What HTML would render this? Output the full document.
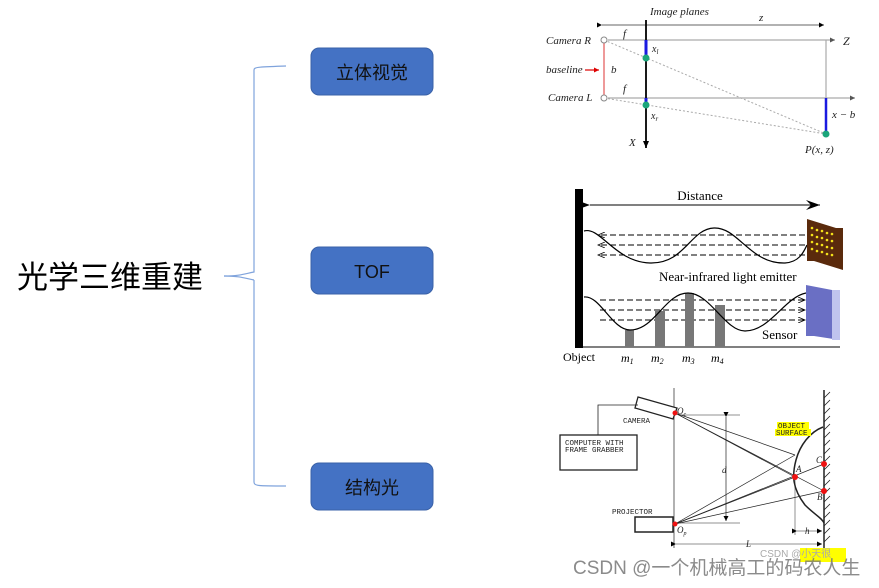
<!DOCTYPE html>
<html><head><meta charset="utf-8"><style>
html,body{margin:0;padding:0;background:#fff;}
svg{display:block;}
.ser{font-family:"Liberation Serif",serif;}
.mono{font-family:"Liberation Mono",monospace;}
</style></head><body>
<svg width="879" height="588" viewBox="0 0 879 588" xmlns="http://www.w3.org/2000/svg">
<defs>
<marker id="ah" markerWidth="8" markerHeight="8" refX="7" refY="4" orient="auto" markerUnits="userSpaceOnUse"><path d="M0,1 L7,4 L0,7 Z" fill="#000"/></marker>
<marker id="ahs" markerWidth="6" markerHeight="6" refX="5" refY="3" orient="auto" markerUnits="userSpaceOnUse"><path d="M0,0.5 L5,3 L0,5.5 Z" fill="#000"/></marker>
<marker id="ahg" markerWidth="6" markerHeight="6" refX="5" refY="3" orient="auto" markerUnits="userSpaceOnUse"><path d="M0,0.5 L5,3 L0,5.5 Z" fill="#555"/></marker>
<marker id="ahr" markerWidth="6" markerHeight="6" refX="5" refY="3" orient="auto" markerUnits="userSpaceOnUse"><path d="M0,0.5 L5,3 L0,5.5 Z" fill="#d00"/></marker>
<marker id="ahb" markerWidth="16" markerHeight="10" refX="14" refY="5" orient="auto" markerUnits="userSpaceOnUse"><path d="M0,0 L14,5 L0,10 L5,5 Z" fill="#000"/></marker>
<marker id="ao" markerWidth="8" markerHeight="6" refX="7" refY="3" orient="auto" markerUnits="userSpaceOnUse"><path d="M0,0 L7,3 L0,6" fill="none" stroke="#000" stroke-width="0.8"/></marker>
</defs>

<!-- Left mindmap -->
<text x="17" y="288" font-family="'Liberation Sans','Noto Sans CJK SC',sans-serif" font-size="31" fill="#000">光学三维重建</text>
<path d="M224,276 C240,276 244,274 254,272 L254,70 C254,67 258,67 286,66 M254,280 L254,482 C254,486 258,486 286,486" fill="none" stroke="#7fa3dc" stroke-width="1.2"/>
<path d="M224,276 C240,276 244,278 254,280" fill="none" stroke="#7fa3dc" stroke-width="1.2"/>
<g font-family="'Liberation Sans','Noto Sans CJK SC',sans-serif" font-size="18" fill="#111" text-anchor="middle">
<rect x="311" y="48" width="122" height="47" rx="8" fill="#4472c4" stroke="#3a62a8"/>
<text x="372" y="79">立体视觉</text>
<rect x="311" y="247" width="122" height="47" rx="8" fill="#4472c4" stroke="#3a62a8"/>
<text x="372" y="278">TOF</text>
<rect x="311" y="463" width="122" height="47" rx="8" fill="#4472c4" stroke="#3a62a8"/>
<text x="372" y="494">结构光</text>
</g>

<!-- Stereo -->
<g class="ser" font-style="italic" font-size="11" fill="#222">
<text x="650" y="15">Image planes</text>
<text x="759" y="21">z</text>
<line x1="602" y1="25" x2="824" y2="25" stroke="#333" stroke-width="0.7" marker-end="url(#ahs)" marker-start="url(#ahs)"/>
<line x1="608" y1="40" x2="835" y2="40" stroke="#aaa" stroke-width="1.2" marker-end="url(#ahg)"/>
<line x1="608" y1="98" x2="855" y2="98" stroke="#aaa" stroke-width="1.2" marker-end="url(#ahg)"/>
<line x1="826" y1="40" x2="826" y2="134" stroke="#aaa" stroke-width="1.2"/>
<line x1="604" y1="40" x2="826" y2="134" stroke="#aaa" stroke-width="1" stroke-dasharray="2,2"/>
<line x1="604" y1="98" x2="826" y2="134" stroke="#aaa" stroke-width="1" stroke-dasharray="2,2"/>
<line x1="646" y1="20" x2="646" y2="148" stroke="#000" stroke-width="1.8" marker-end="url(#ah)"/>
<line x1="646" y1="40" x2="646" y2="58" stroke="#1a1ae0" stroke-width="3"/>
<line x1="646" y1="98" x2="646" y2="104" stroke="#1a1ae0" stroke-width="3"/>
<line x1="826" y1="98" x2="826" y2="134" stroke="#1a1ae0" stroke-width="2.5"/>
<circle cx="646" cy="58" r="3.5" fill="#1aa57a"/>
<circle cx="646" cy="105" r="3.5" fill="#1aa57a"/>
<circle cx="826" cy="134" r="3.5" fill="#1aa57a"/>
<line x1="604" y1="40" x2="604" y2="98" stroke="#d33" stroke-width="1"/>
<circle cx="604" cy="40" r="3" fill="#fff" stroke="#888"/>
<circle cx="604" cy="98" r="3" fill="#fff" stroke="#888"/>
<line x1="585" y1="70" x2="599" y2="70" stroke="#d00" stroke-width="1.2" marker-end="url(#ahr)"/>
<text x="546" y="44">Camera R</text>
<text x="548" y="101">Camera L</text>
<text x="546" y="73">baseline</text>
<text x="611" y="73">b</text>
<text x="623" y="37">f</text>
<text x="623" y="92">f</text>
<text x="843" y="45" font-size="12">Z</text>
<text x="652" y="52" font-size="10">x<tspan font-size="7" dy="2">l</tspan></text>
<text x="651" y="119" font-size="10">x<tspan font-size="7" dy="2">r</tspan></text>
<text x="629" y="146">X</text>
<text x="832" y="118">x − b</text>
<text x="805" y="153">P(x, z)</text>
</g>

<!-- TOF -->
<g>
<rect x="575" y="189" width="8" height="159" fill="#000"/>
<line x1="575" y1="347" x2="840" y2="347" stroke="#000" stroke-width="1"/>
<line x1="590" y1="205" x2="820" y2="205" stroke="#000" stroke-width="1" marker-end="url(#ahb)" marker-start="url(#ahb)"/>
<text class="ser" x="700" y="200" text-anchor="middle" font-size="13">Distance</text>
<path d="M584,231 C600,226 615,262 650,263 C685,264 690,229 714,228 C738,227 750,264 785,263 C800,262 804,251 807,245" fill="none" stroke="#000" stroke-width="1.2"/>
<g stroke="#000" stroke-width="1" stroke-dasharray="6,3">
<line x1="805" y1="235" x2="598" y2="235" marker-end="url(#ao)"/>
<line x1="805" y1="245" x2="598" y2="245" marker-end="url(#ao)"/>
<line x1="805" y1="255" x2="598" y2="255" marker-end="url(#ao)"/>
<line x1="600" y1="300" x2="805" y2="300" marker-end="url(#ao)"/>
<line x1="600" y1="310" x2="805" y2="310" marker-end="url(#ao)"/>
<line x1="600" y1="320" x2="805" y2="320" marker-end="url(#ao)"/>
</g>
<polygon points="807,219 836,228 843,228 843,270 814,261 807,261" fill="#5a2a0c"/>
<g fill="#f4e21a">
<circle cx="812" cy="228" r="1.3"/><circle cx="817" cy="230" r="1.3"/><circle cx="822" cy="231" r="1.3"/><circle cx="827" cy="233" r="1.3"/><circle cx="832" cy="234" r="1.3"/>
<circle cx="812" cy="235" r="1.3"/><circle cx="817" cy="237" r="1.3"/><circle cx="822" cy="238" r="1.3"/><circle cx="827" cy="240" r="1.3"/><circle cx="832" cy="241" r="1.3"/>
<circle cx="812" cy="242" r="1.3"/><circle cx="817" cy="244" r="1.3"/><circle cx="822" cy="245" r="1.3"/><circle cx="827" cy="247" r="1.3"/><circle cx="832" cy="248" r="1.3"/>
<circle cx="812" cy="249" r="1.3"/><circle cx="817" cy="251" r="1.3"/><circle cx="822" cy="252" r="1.3"/><circle cx="827" cy="254" r="1.3"/><circle cx="832" cy="255" r="1.3"/>
</g>
<text class="ser" x="659" y="281" font-size="13">Near-infrared light emitter</text>
<rect x="625" y="330" width="9" height="17" fill="#777"/>
<rect x="655" y="311" width="10" height="36" fill="#777"/>
<rect x="685" y="293" width="9" height="54" fill="#777"/>
<rect x="715" y="305" width="10" height="42" fill="#777"/>
<path d="M584,297 C600,295 612,330 630,330 C655,330 665,293 688,293 C710,293 725,331 745,331 C770,331 785,297 806,293" fill="none" stroke="#000" stroke-width="1.2"/>
<polygon points="806,285 832,290 840,290 840,340 814,336 806,336" fill="#6a6fc4"/>
<rect x="832" y="290" width="8" height="50" fill="#c0c4ee"/>
<text class="ser" x="762" y="339" font-size="13">Sensor</text>
<g class="ser" font-size="12">
<text x="563" y="361">Object</text>
<text x="621" y="362" font-style="italic">m<tspan font-size="8" dy="2">1</tspan></text>
<text x="651" y="362" font-style="italic">m<tspan font-size="8" dy="2">2</tspan></text>
<text x="682" y="362" font-style="italic">m<tspan font-size="8" dy="2">3</tspan></text>
<text x="711" y="362" font-style="italic">m<tspan font-size="8" dy="2">4</tspan></text>
</g>
</g>

<!-- Structured light -->
<g stroke="#222" fill="none">
<line x1="674" y1="388" x2="674" y2="548" stroke-width="0.7"/>
<line x1="824" y1="390" x2="824" y2="550" stroke-width="1.5"/>
<path d="M824,398 l6,-6 M824,406 l6,-6 M824,414 l6,-6 M824,422 l6,-6 M824,430 l6,-6 M824,438 l6,-6 M824,446 l6,-6 M824,454 l6,-6 M824,462 l6,-6 M824,470 l6,-6 M824,478 l6,-6 M824,486 l6,-6 M824,494 l6,-6 M824,502 l6,-6 M824,510 l6,-6 M824,518 l6,-6 M824,526 l6,-6 M824,534 l6,-6 M824,542 l6,-6" stroke-width="0.8"/>
<polygon points="638,397 677,408 673,419 635,408" stroke-width="1.3" fill="#fff"/>
<polyline points="638,405 598,405 598,435" stroke-width="0.8"/>
<rect x="560" y="435" width="77" height="35" stroke-width="1.3" fill="#fff"/>
<rect x="635" y="517" width="38" height="15" stroke-width="1.5" fill="#fff"/>
<line x1="680" y1="415" x2="740" y2="415" stroke-width="0.6"/>
<line x1="680" y1="523" x2="740" y2="523" stroke-width="0.6"/>
<line x1="726" y1="417" x2="726" y2="521" stroke-width="0.7" marker-end="url(#ahs)" marker-start="url(#ahs)"/>
<line x1="795" y1="478" x2="795" y2="535" stroke-width="0.5"/>
<line x1="797" y1="531" x2="822" y2="531" stroke-width="0.6" marker-end="url(#ahs)" marker-start="url(#ahs)"/>
<line x1="676" y1="544" x2="822" y2="544" stroke-width="0.6" marker-end="url(#ahs)" marker-start="url(#ahs)"/>
<path d="M823,427 C810,432 800,445 796,460 C792,475 792,488 805,505 C815,515 822,518 824,523" stroke-width="1.5"/>
<g stroke-width="0.7">
<line x1="675" y1="524" x2="795" y2="455"/>
<line x1="675" y1="524" x2="795" y2="477"/>
<line x1="675" y1="524" x2="824" y2="464"/>
<line x1="675" y1="524" x2="824" y2="491"/>
<line x1="675" y1="413" x2="795" y2="455"/>
<line x1="675" y1="413" x2="824" y2="491"/>
<line x1="675" y1="413" x2="795" y2="477"/>
</g>
</g>
<g fill="#e11">
<circle cx="675" cy="413" r="2.5"/><circle cx="675" cy="524" r="2.5"/>
<circle cx="795" cy="477" r="3"/><circle cx="824" cy="464" r="3"/><circle cx="824" cy="491" r="3"/>
</g>
<g class="mono" font-size="7.5" fill="#222">
<text x="623" y="423">CAMERA</text>
<text x="565" y="445">COMPUTER WITH</text>
<text x="565" y="452">FRAME GRABBER</text>
<text x="612" y="514">PROJECTOR</text>
<rect x="777" y="422" width="32" height="7" fill="#ff0"/>
<rect x="775" y="429" width="36" height="7" fill="#ff0"/>
<text x="778" y="428">OBJECT</text>
<text x="776" y="435">SURFACE</text>
<rect x="800" y="548" width="46" height="14" fill="#ff0"/>
</g>
<g class="ser" font-style="italic" font-size="9" fill="#222">
<text x="677" y="414">O<tspan font-size="6" dy="2">c</tspan></text>
<text x="677" y="533">O<tspan font-size="6" dy="2">p</tspan></text>
<text x="722" y="473">d</text>
<text x="796" y="472">A</text>
<text x="816" y="463">C</text>
<text x="817" y="500">B</text>
<text x="805" y="534">h</text>
<text x="746" y="547">L</text>
</g>
<text x="760" y="557" font-family="'Liberation Sans',sans-serif" font-size="10" fill="#aaa">CSDN @小天很</text>
<text x="573" y="574" font-family="'Liberation Sans','Noto Sans CJK SC',sans-serif" font-size="19" fill="#777" opacity="0.85">CSDN @一个机械高工的码农人生</text>
</svg>
</body></html>
